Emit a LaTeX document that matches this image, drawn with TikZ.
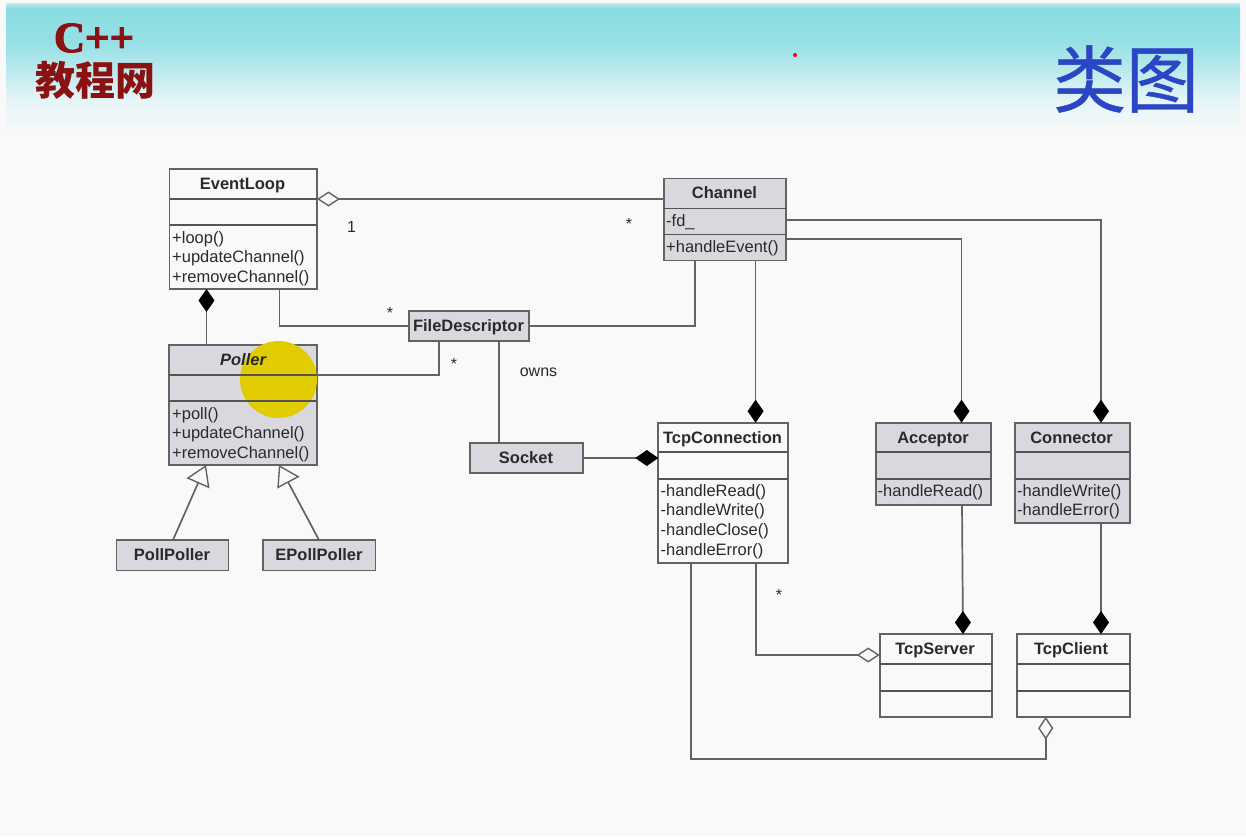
\documentclass[tikz,border=0pt]{standalone}
\usepackage{fontspec}
\setmainfont{Liberation Sans}
\newfontfamily\cjkfont{Noto Sans CJK SC}
\newfontfamily\cjktitle[FakeBold=0.6]{Noto Sans CJK SC}
\newfontfamily\logoserif[FakeBold=2.5]{Liberation Serif Bold}
\usetikzlibrary{arrows.meta,calc}
\definecolor{pagebg}{HTML}{F9F9F9}
\definecolor{linecol}{HTML}{636363}
\definecolor{boxgrey}{HTML}{DAD8DF}
\definecolor{txtcol}{HTML}{2A2A2A}
\definecolor{logored}{HTML}{8A1212}
\definecolor{titleblue}{HTML}{2A46C4}
\definecolor{marker}{HTML}{E0CC00}
\definecolor{hdra}{HTML}{E6F5F7}
\definecolor{hdrb}{HTML}{BEEAEE}
\definecolor{hdrc}{HTML}{96E0E5}
\definecolor{hdrd}{HTML}{8ADCE1}
\definecolor{hdre}{HTML}{BEEBEE}
\pgfdeclareverticalshading{hdrshade}{100bp}{
 color(0bp)=(pagebg);
 color(25bp)=(pagebg);
 color(38bp)=(hdra);
 color(49bp)=(hdrb);
 color(60bp)=(hdrc);
 color(73bp)=(hdrd);
 color(75bp)=(hdre);
 color(100bp)=(hdre)}
\tikzset{
 x=1pt,y=-1pt,
 cbox/.style={draw=linecol,line width=1.7pt,inner sep=0,outer sep=0,anchor=north west,fill=#1},
 cbox/.default=pagebg,
 divider/.style={draw=linecol!85!black,line width=1.7pt},
 title/.style={font=\fontsize{16.5}{19.7}\selectfont\bfseries,text=txtcol,inner sep=0,text height=12pt,text depth=0pt},
 members/.style={font=\fontsize{16.5}{19.7}\selectfont,text=txtcol,inner sep=0,anchor=north west,align=left},
 plain/.style={font=\fontsize{16}{18}\selectfont,text=txtcol,inner sep=0},
 conn/.style={draw=linecol,line width=1.7pt,line join=miter},
 compo/.style={conn,-{Diamond[length=23pt,width=16pt,fill=black,color=black]}},
 aggr/.style={conn,-{Diamond[open,length=23pt,width=15pt,fill=pagebg,color=linecol,line width=1.4pt]}},
 inherit/.style={conn,-{Triangle[open,length=20pt,width=25pt,fill=pagebg,color=linecol,line width=1.4pt]}},
}
\begin{document}
\begin{tikzpicture}
\useasboundingbox (0,0) rectangle (1246,836);
\fill[pagebg] (0,0) rectangle (1246,836);
\shade[shading=hdrshade] (6,3) rectangle (1240,135);
% header
\node[font=\logoserif\fontsize{43}{43}\selectfont,text=logored,inner sep=0] (logoa) at (94,38) {C++};
\node[font=\cjkfont\fontsize{40}{40}\selectfont\bfseries,text=logored,inner sep=0] (logob) at (95,80) {教程网};
\node[font=\cjktitle\fontsize{73}{73}\selectfont,text=titleblue,inner sep=0] (ttl) at (1126,79) {类图};
\fill[red] (795,55) circle (2);
% boxes
\node[cbox,minimum width=147.5pt,minimum height=120pt] (ev) at (169.5,169) {};
\node[cbox=boxgrey,minimum width=122pt,minimum height=82pt] (ch) at (664,178.5) {};
\node[cbox=boxgrey,minimum width=147.5pt,minimum height=120pt] (po) at (169.3,345) {};
\fill[marker] (278.5,379.5) circle (38.5);
\node[cbox=boxgrey,minimum width=120.5pt,minimum height=30pt] (fd) at (408.7,310.7) {};
\node[cbox=boxgrey,minimum width=113pt,minimum height=30pt] (so) at (470,443) {};
\node[cbox=boxgrey,minimum width=112pt,minimum height=30.5pt] (pp) at (116.5,540) {};
\node[cbox=boxgrey,minimum width=112.5pt,minimum height=30.5pt] (ep) at (263,540) {};
\node[cbox,minimum width=129.7pt,minimum height=140pt] (tc) at (658.3,422.7) {};
\node[cbox=boxgrey,minimum width=115pt,minimum height=82.5pt] (ac) at (875.7,422.7) {};
\node[cbox=boxgrey,minimum width=114.4pt,minimum height=100.5pt] (cn) at (1015.3,422.7) {};
\node[cbox,minimum width=112pt,minimum height=82.7pt] (ts) at (879.7,634) {};
\node[cbox,minimum width=112.4pt,minimum height=82.7pt] (tk) at (1017.3,634) {};
% dividers
\foreach \n/\a/\b in {ev/199/225,ch/208.5/234.5,po/375/401,tc/452.3/479,ac/452.3/479,cn/452.3/479,ts/664/690.7,tk/664/690.7}{
  \draw[divider] (\n.west |- 0,\a) -- (\n.east |- 0,\a);
  \draw[divider] (\n.west |- 0,\b) -- (\n.east |- 0,\b);
}
% connectors
\draw[aggr] (ch.west |- 0,199) -- (ev.east |- 0,199);
\draw[compo] (po.north -| 206.5,0) -- (ev.south -| 206.5,0);
\draw[conn] (ev.south -| 279.5,0) |- (fd.west);
\draw[conn] (fd.east) -| (ch.south -| 695,0);
\draw[conn] (fd.south -| 439.3,0) |- (po.east |- 0,375);
\draw[conn] (fd.south -| 499,0) -- (so.north -| 499,0);
\draw[compo] (so.east) -- (tc.west |- so.east);
\draw[inherit] (pp.north -| 173,0) -- (po.south -| 206,0);
\draw[inherit] (ep.north -| 319,0) -- (po.south -| 279,0);
\draw[compo] (ch.south -| 755.6,0) -- (tc.north -| 755.6,0);
\draw[compo] (ch.east |- 0,239) -| (ac.north -| 961.5,0);
\draw[compo] (ch.east |- 0,220) -| (cn.north -| 1101,0);
\draw[compo] (ac.south -| 962,0) -- (ts.north -| 963,0);
\draw[compo] (cn.south -| 1101,0) -- (tk.north -| 1101,0);
\draw[aggr] (tc.south -| 755.7,0) |- (ts.west |- 0,655);
\coordinate (bend) at (1045.7,759.3);
\draw[aggr] (tc.south -| 690.7,0) |- (bend) -- (tk.south -| 1045.7,0);
% titles
\node[title] (tev) at (242.5,183.5) {EventLoop};
\node[title] (tch) at (724.5,192.5) {Channel};
\node[title,font=\fontsize{16.5}{19.7}\selectfont\bfseries\itshape] (tpo) at (243,359.5) {Poller};
\node[title] (tfd) at (468.5,325) {FileDescriptor};
\node[title] (tso) at (526,457) {Socket};
\node[title] (tpp) at (172,554) {PollPoller};
\node[title] (tep) at (319,554) {EPollPoller};
\node[title] (ttc) at (722.5,437) {TcpConnection};
\node[title] (tac) at (933,437) {Acceptor};
\node[title] (tcn) at (1071.5,437) {Connector};
\node[title] (tts) at (935,648) {TcpServer};
\node[title] (ttk) at (1071,648) {TcpClient};
% members
\node[members] (mev) at (172,231) {+loop()\\+updateChannel()\\+removeChannel()};
\node[members] (mpo) at (172,407) {+poll()\\+updateChannel()\\+removeChannel()};
\node[members] (mcf) at (666,214) {-fd\_};
\node[members] (mch) at (666,240) {+handleEvent()};
\node[members] (mtc) at (660.5,484) {-handleRead()\\-handleWrite()\\-handleClose()\\-handleError()};
\node[members] (mac) at (877.5,484) {-handleRead()};
\node[members] (mcn) at (1017,484) {-handleWrite()\\-handleError()};
% labels
\node[plain] (one) at (351.5,227) {1};
\node[plain] (own) at (538.5,372) {owns};
\node[plain] (s1) at (390,313) {*};
\node[plain] (s2) at (454,364) {*};
\node[plain] (s3) at (629,224) {*};
\node[plain] (s4) at (779,595) {*};
\end{tikzpicture}
\end{document}
